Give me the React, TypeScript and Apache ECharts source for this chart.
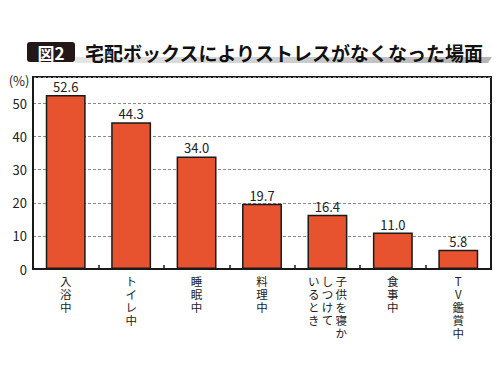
import React, { useEffect, useRef } from "react";
import * as echarts from "echarts";

const categories = ["入浴中", "トイレ中", "睡眠中", "料理中", "子供を寝かしつけているとき", "食事中", "TV鑑賞中"];
const labelColumns = [["入浴中"], ["トイレ中"], ["睡眠中"], ["料理中"], ["子供を寝か", "しつけて", "いるとき"], ["食事中"], ["TV鑑賞中"]];
const values = [52.6, 44.3, 34.0, 19.7, 16.4, 11.0, 5.8];
const yTicks = [0, 10, 20, 30, 40, 50];

const FONT = "'Noto Sans CJK JP', 'Noto Sans', sans-serif";

function verticalLabel(idx: number): string {
  const cols = labelColumns[idx];
  const arr = cols.map((c) => Array.from(c));
  const rows = Math.max(...arr.map((a) => a.length));
  const lines: string[] = [];
  for (let r = 0; r < rows; r++) {
    const parts: string[] = [];
    for (let c = arr.length - 1; c >= 0; c--) {
      parts.push(arr[c][r] !== undefined ? arr[c][r] : "\u3000");
    }
    lines.push(parts.join("\u2009"));
  }
  return lines.join("\n");
}

export default function App() {
  const ref = useRef<HTMLDivElement>(null);
  useEffect(() => {
    if (!ref.current) return;
    const chart = echarts.init(ref.current, null, { renderer: "svg" });
    chart.setOption({
      animation: false,
      backgroundColor: "#ffffff",
      grid: {
        left: 33,
        right: 9,
        top: 77,
        bottom: 106,
        show: true,
        borderColor: "#1a1a1a",
        borderWidth: 2,
        backgroundColor: "transparent",
      },
      graphic: [
        {
          type: "polygon",
          shape: { points: [[75, 57], [492, 57], [488, 63], [75, 63]] },
          style: {
            fill: new echarts.graphic.LinearGradient(0, 0, 1, 0, [
              { offset: 0, color: "#e6e6e6" },
              { offset: 1, color: "#b5b5b5" },
            ]),
          },
        },
        {
          type: "rect",
          shape: { x: 27, y: 42, width: 48, height: 20, r: 3 },
          style: { fill: "#231815" },
        },
        {
          type: "text",
          x: 51,
          y: 52,
          style: {
            text: "図2",
            fill: "#ffffff",
            font: `bold 17px ${FONT}`,
            align: "center",
            verticalAlign: "middle",
          },
        },
        {
          type: "text",
          x: 85,
          y: 52,
          style: {
            text: "宅配ボックスによりストレスがなくなった場面",
            fill: "#111111",
            font: `bold 19px ${FONT}`,
            align: "left",
            verticalAlign: "middle",
          },
        },
        {
          type: "text",
          x: 19,
          y: 80,
          style: {
            text: "(%)",
            fill: "#222222",
            font: `13px ${FONT}`,
            align: "center",
            verticalAlign: "middle",
          },
        },
      ],
      xAxis: {
        type: "category",
        data: categories,
        axisLine: { lineStyle: { color: "#1a1a1a", width: 2 } },
        axisTick: { show: true, inside: true, length: 4, lineStyle: { color: "#1a1a1a", width: 1.5 } },
        axisLabel: {
          interval: 0,
          margin: 5,
          color: "#222222",
          fontFamily: FONT,
          fontSize: 11.5,
          lineHeight: 13,
          align: "center",
          verticalAlign: "top",
          formatter: (_v: string, i: number) => verticalLabel(i),
        },
      },
      yAxis: {
        type: "value",
        min: 0,
        max: 58,
        interval: 10,
        axisLine: { show: true, lineStyle: { color: "#1a1a1a", width: 2 } },
        axisTick: { show: false },
        axisLabel: {
          margin: 6,
          color: "#222222",
          fontFamily: FONT,
          fontSize: 13,
          formatter: (v: number) => (yTicks.includes(v) ? String(v) : ""),
        },
        splitLine: {
          show: true,
          lineStyle: { color: "#888888", type: [3, 2], width: 1 },
        },
      },
      series: [
        {
          type: "bar",
          data: values,
          barWidth: "61%",
          itemStyle: { color: "#e8532f", borderColor: "#1a1a1a", borderWidth: 1.5 },
          label: {
            show: true,
            position: "top",
            distance: 2,
            color: "#222222",
            fontFamily: FONT,
            fontSize: 13,
            formatter: (p: any) => Number(p.value).toFixed(1),
          },
        },
      ],
    });
    return () => chart.dispose();
  }, []);
  return <div ref={ref} style={{ position: "fixed", left: 0, top: 0, width: 500, height: 375 }} />;
}
